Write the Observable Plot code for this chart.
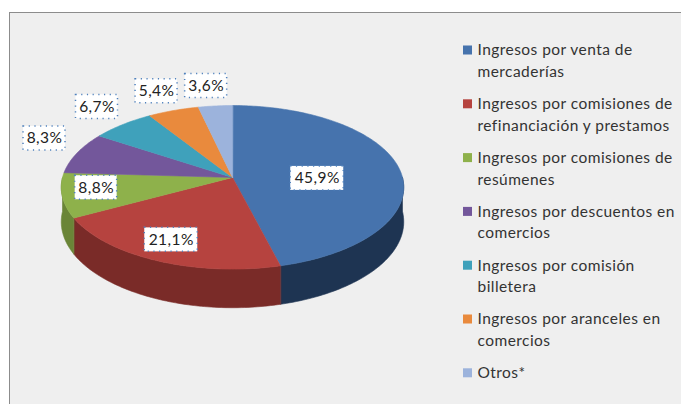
<!DOCTYPE html>
<html>
<head>
<meta charset="utf-8">
<script src="https://cdn.jsdelivr.net/npm/d3@7"></script>
<script src="https://cdn.jsdelivr.net/npm/@observablehq/plot@0.6"></script>
<style>
  html, body { margin: 0; padding: 0; background: #ffffff; }
  #wrap { position: relative; width: 681px; height: 404px; overflow: hidden; }
  #bg { position: absolute; left: 9px; top: 12px; width: 720px; height: 440px;
        background: #efefef; border: 1.5px solid #8c8c8c; }
  #chart { position: absolute; left: 0; top: 0; }
</style>
</head>
<body>
<div id="wrap"><div id="bg"></div><div id="chart"></div></div>
<script>
// ---- data ----
const categories = [
  "Ingresos por venta de\nmercaderías",
  "Ingresos por comisiones de\nrefinanciación y prestamos",
  "Ingresos por comisiones de\nresúmenes",
  "Ingresos por descuentos en\ncomercios",
  "Ingresos por comisión\nbilletera",
  "Ingresos por aranceles en\ncomercios",
  "Otros*"
];
const values = [45.9, 21.1, 8.8, 8.3, 6.7, 5.4, 3.6];
const valueLabels = ["45,9%", "21,1%", "8,8%", "8,3%", "6,7%", "5,4%", "3,6%"];
const topColors = ["#4673ad", "#b6433f", "#8eb14b", "#73579b", "#3fa1bb", "#e98a3d", "#9cb3dc"];
const sideColors = ["#1e3452", "#7a2b28", "#6a8537", "#4f3a6c", "#2c7083", "#a9622a", "#6f80a0"];

// ---- geometry (layout) ----
const CX = 232, CY = 177, RX = 170, RY = 80.6, K = 0.12, DEPTH = 34;
function project(a, depth = 0) {
  const s = Math.sin(a), u = -Math.cos(a), w = 1 - K * u;
  return [CX + RX * s / w, CY + RY * u / w + depth / w];
}
const total = d3.sum(values);
let acc = 0;
const slices = values.map((v, i) => {
  const a0 = acc / total * 2 * Math.PI;
  acc += v;
  const a1 = acc / total * 2 * Math.PI;
  return {i, v, a0, a1, mid: (a0 + a1) / 2};
});

function arcPts(a0, a1, depth) {
  const n = Math.max(2, Math.ceil((a1 - a0) / (Math.PI / 180)));
  const pts = [];
  for (let k = 0; k <= n; k++) pts.push(project(a0 + (a1 - a0) * k / n, depth));
  return pts;
}

const sidePts = [];
const topPts = [];
for (const sl of slices) {
  const b0 = Math.max(sl.a0, Math.PI / 2), b1 = Math.min(sl.a1, 3 * Math.PI / 2);
  if (b1 > b0) {
    const upper = arcPts(b0, b1, 0);
    const lower = arcPts(b0, b1, DEPTH).reverse();
    for (const [x, y] of upper.concat(lower)) sidePts.push({key: sl.i, x, y, c: sideColors[sl.i]});
  }
  topPts.push({key: sl.i, x: CX, y: CY, c: topColors[sl.i]});
  for (const [x, y] of arcPts(sl.a0, sl.a1, 0)) topPts.push({key: sl.i, x, y, c: topColors[sl.i]});
}

// label positions
const labelData = slices.map(sl => {
  const s = Math.sin(sl.mid), c = Math.cos(sl.mid);
  let x, y;
  if (sl.v / total > 0.4) {
    [x, y] = project(sl.mid); x = CX + (x - CX) * 0.51; y = CY + (y - CY) * 0.51 + 6;
  } else if (sl.v / total > 0.085) {
    [x, y] = project(sl.mid); x = CX + (x - CX) * 0.8; y = CY + (y - CY) * 0.8 - 4;
  } else {
    const [ex, ey] = project(sl.mid);
    x = ex + s * 28 - 6;
    y = ey - (12 + 8 * c);
  }
  const t = valueLabels[sl.i];
  const hw = (t.length * 11 - 2) / 2;
  return {t, x, y, x1: x - hw, x2: x + hw, y1: y - 12, y2: y + 12};
});

// legend
const LX = 463, LY = 50, LSTEP = 53.8, LLINE = 21.5;
const legendSq = categories.map((c, i) => ({x1: LX, x2: LX + 9, y1: LY + i * LSTEP - 4.5, y2: LY + i * LSTEP + 4.5, c: topColors[i]}));
const legendText = categories.flatMap((c, i) => c.split("\n").map((line, j) => ({t: line, x: LX + 14, y: LY + i * LSTEP + j * LLINE})));

const chart = Plot.plot({
  width: 681, height: 404, margin: 0,
  style: {background: "transparent", fontFamily: "Lato, 'Open Sans', sans-serif", letterSpacing: "0.45px"},
  x: {domain: [0, 681], range: [0, 681], axis: null},
  y: {domain: [0, 404], range: [0, 404], axis: null},
  color: {type: "identity"},
  marks: [
    Plot.line(sidePts, {x: "x", y: "y", z: "key", fill: "c", stroke: "c", strokeWidth: 0.6, curve: "linear-closed"}),
    Plot.line(topPts, {x: "x", y: "y", z: "key", fill: "c", stroke: "c", strokeWidth: 0.6, curve: "linear-closed"}),
    Plot.rect(labelData, {x1: "x1", x2: "x2", y1: "y1", y2: "y2", fill: "white", stroke: "#4f81bd", strokeWidth: 1.5, strokeDasharray: "1.2,4.5"}),
    Plot.text(labelData, {x: "x", y: "y", text: "t", fontSize: 15.5, fill: "#222"}),
    Plot.rect(legendSq, {x1: "x1", x2: "x2", y1: "y1", y2: "y2", fill: "c"}),
    Plot.text(legendText, {x: "x", y: "y", text: "t", textAnchor: "start", fontSize: 15.5, fill: "#333"})
  ]
});
document.getElementById("chart").appendChild(chart);
</script>
</body>
</html>
